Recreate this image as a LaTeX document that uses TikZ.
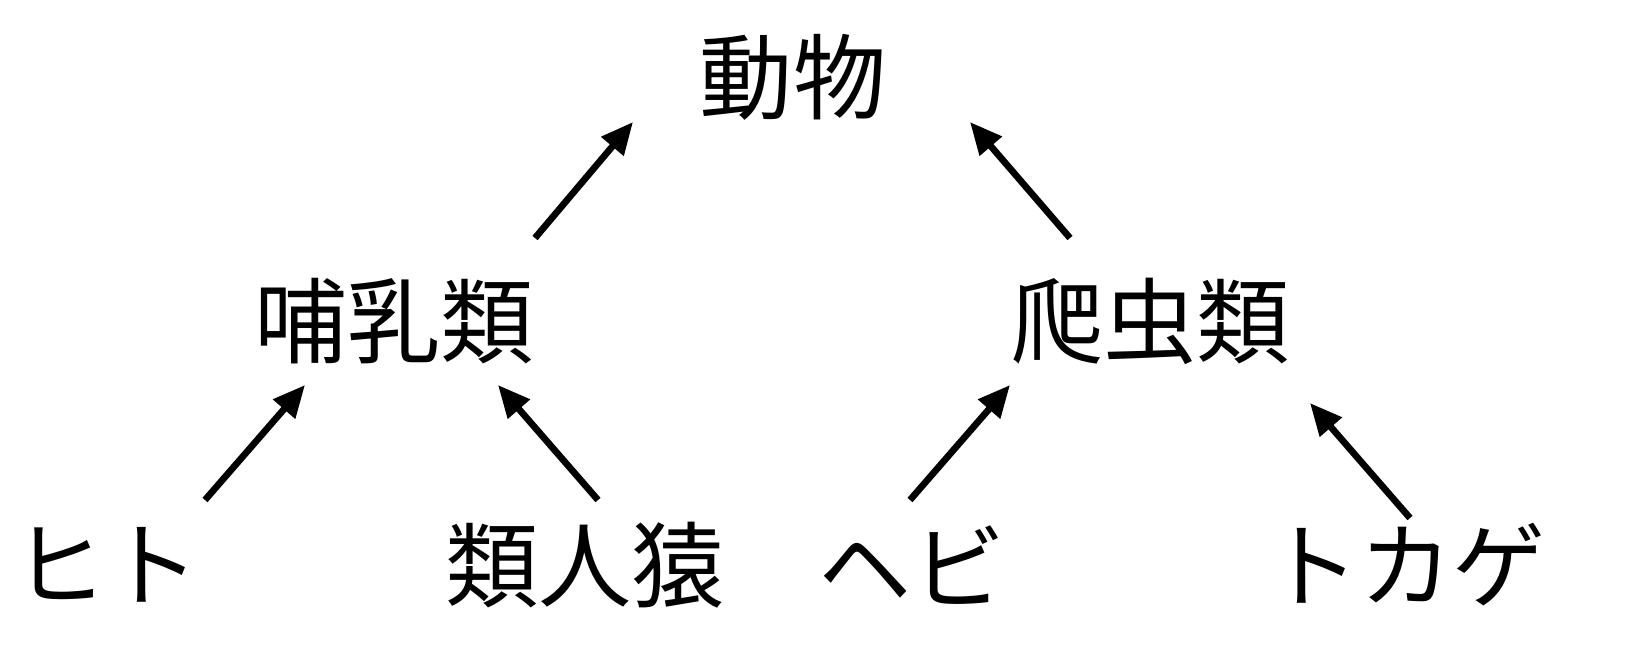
\documentclass[tikz,border=0pt]{standalone}
\usepackage{fontspec}
\newfontfamily\cjk{Noto Sans CJK JP}
\usetikzlibrary{arrows.meta}
\begin{document}
\begin{tikzpicture}[x=0.01cm,y=-0.01cm,
  lbl/.style={font=\cjk\fontsize{26.5}{30}\selectfont, inner sep=0pt},
  arr/.style={line width=1.9pt, -{Triangle[length=0.32cm,width=0.28cm]}}]
\useasboundingbox (0,0) rectangle (1632,656);
\node[lbl] (animal) at (793,77) {動物};
\node[lbl] (mammal) at (394,321) {哺乳類};
\node[lbl] (reptile) at (1150,321) {爬虫類};
\node[lbl] (human) at (107,565) {ヒト};
\node[lbl] (ape) at (585,565) {類人猿};
\node[lbl] (snake) at (912,565) {ヘビ};
\node[lbl] (lizard) at (1406,565) {トカゲ};
\coordinate (m1) at (535,238); \coordinate (a1) at (633,122);
\coordinate (r1) at (1070,238); \coordinate (a2) at (970,122);
\coordinate (h1) at (205,500); \coordinate (m2) at (305,385);
\coordinate (p1) at (598,500); \coordinate (m3) at (498,385);
\coordinate (s1) at (910,500); \coordinate (r2) at (1010,385);
\coordinate (l1) at (1410,518); \coordinate (r3) at (1310,403);
\draw[arr] (m1) -- (a1);
\draw[arr] (r1) -- (a2);
\draw[arr] (h1) -- (m2);
\draw[arr] (p1) -- (m3);
\draw[arr] (s1) -- (r2);
\draw[arr] (l1) -- (r3);
\end{tikzpicture}
\end{document}
